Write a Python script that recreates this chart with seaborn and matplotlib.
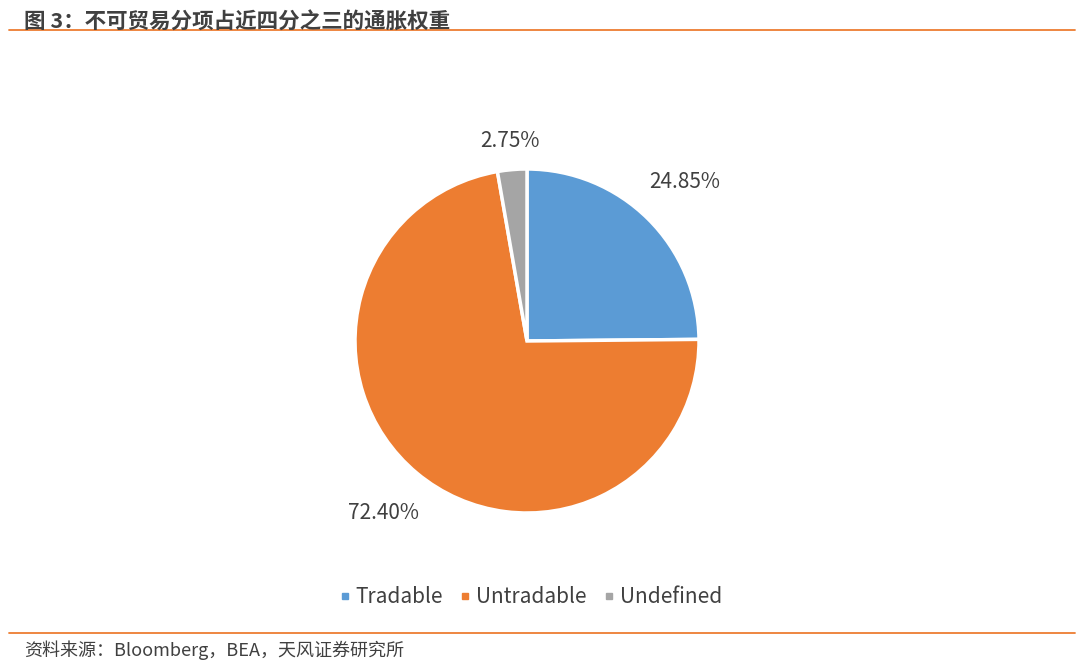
import matplotlib
matplotlib.use("Agg")
import matplotlib.pyplot as plt
import seaborn as sns
import numpy as np
from matplotlib.lines import Line2D

sns.set_theme(style="white")
plt.rcParams['font.family'] = ['Noto Sans CJK SC', 'DejaVu Sans']

categories = ["Tradable", "Untradable", "Undefined"]
values = [24.85, 72.40, 2.75]
colors = ["#5B9BD5", "#ED7D31", "#A5A5A5"]
label_dist = [1.30, 1.30, 1.17]

fig = plt.figure(figsize=(10.8, 6.63), dpi=100)
ax = fig.add_axes([527/1080 - 172/1080, 1 - 341/663 - 172/663, 344/1080, 344/663])
wedges, texts, autotexts = ax.pie(values, colors=colors, startangle=90, counterclock=False,
                                  autopct=lambda p: f"{p:.2f}%", pctdistance=1.3,
                                  wedgeprops=dict(edgecolor="white", linewidth=2.5))
for w, t, d in zip(wedges, autotexts, label_dist):
    ang = np.deg2rad((w.theta1 + w.theta2) / 2)
    t.set_position((d * np.cos(ang), d * np.sin(ang)))
    t.set_fontsize(15); t.set_color("#404040")
ax.set_xlim(-1, 1); ax.set_ylim(-1, 1); ax.set_aspect("equal"); ax.axis("off")

orange = "#ED7D31"
fig.text(0.022, 0.983, "图 3：不可贸易分项占近四分之三的通胀权重", fontsize=15.5, fontweight="bold",
         color="#404040", va="top", ha="left")
fig.add_artist(Line2D([0.008, 0.995], [1 - 30/663]*2, color=orange, lw=1.3))
fig.add_artist(Line2D([0.008, 0.995], [1 - 633/663]*2, color=orange, lw=1.3))
fig.text(0.022, 1 - 650/663, "资料来源：Bloomberg，BEA，天风证券研究所", fontsize=13,
         color="#404040", va="center", ha="left")

handles = [Line2D([], [], marker="s", ls="", color=c, markersize=5) for c in colors]
fig.legend(handles, categories, loc="center", bbox_to_anchor=(0.489, 1 - 597/663), ncol=3,
           frameon=False, fontsize=15, handletextpad=0.0, columnspacing=0.6,
           handlelength=1.0, labelcolor="#404040")

fig.savefig("out.png", dpi=100, facecolor="white")
